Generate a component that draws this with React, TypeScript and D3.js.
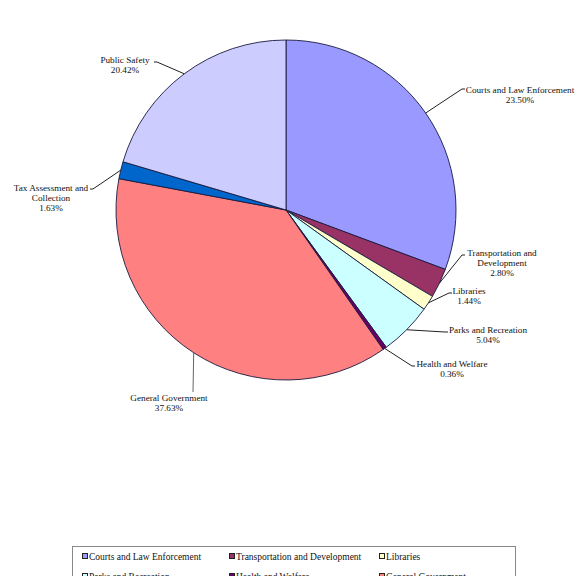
import React from "react";
import * as d3 from "d3";

const categories = [
  "Courts and Law Enforcement",
  "Transportation and Development",
  "Libraries",
  "Parks and Recreation",
  "Health and Welfare",
  "General Government",
  "Tax Assessment and Collection",
  "Public Safety",
];
// slice sizes as drawn in the picture (percent of the circle)
const sliceValues = [30.68, 2.8, 1.44, 5.04, 0.36, 37.63, 1.63, 20.42];
// percentage texts printed on the labels
const labelPercents = ["23.50%", "2.80%", "1.44%", "5.04%", "0.36%", "37.63%", "1.63%", "20.42%"];
const labelLines = [
  ["Courts and Law Enforcement"],
  ["Transportation and", "Development"],
  ["Libraries"],
  ["Parks and Recreation"],
  ["Health and Welfare"],
  ["General Government"],
  ["Tax Assessment and", "Collection"],
  ["Public Safety"],
];
const colors = ["#9999FF", "#993366", "#FFFFCC", "#CCFFFF", "#660066", "#FF8080", "#0066CC", "#CCCCFF"];

// label layout: text centre x, first baseline y, leader start (x,y)
const labelLayout = [
  { x: 520, y: 93, lx: 462, ly: 89 },
  { x: 502, y: 256, lx: 462, ly: 255 },
  { x: 469, y: 294, lx: 449, ly: 293 },
  { x: 488, y: 333, lx: 445, ly: 332 },
  { x: 452, y: 367, lx: 412, ly: 366 },
  { x: 169, y: 401, lx: 193, ly: 392 },
  { x: 51, y: 191, lx: 93, ly: 189 },
  { x: 125, y: 63, lx: 157, ly: 62 },
];

const W = 576;
const H = 576;
const cx = 286;
const cy = 210;
const R = 170;
const FONT = "'Liberation Serif', 'Times New Roman', serif";

export default function App() {
  const pie = d3.pie<number>().sort(null).startAngle(0).endAngle(2 * Math.PI);
  const arcs = pie(sliceValues);
  const arcGen = d3.arc<d3.PieArcDatum<number>>().innerRadius(0).outerRadius(R);

  const legendCols = [82, 229, 379];
  const legendRow0 = 560;
  const legendRowGap = 20;

  return (
    <svg
      width={W}
      height={H}
      style={{ position: "absolute", left: 0, top: 0, background: "#fff" }}
      fontFamily={FONT}
    >
      <rect x={0} y={0} width={W} height={H} fill="#fff" />
      <g transform={`translate(${cx},${cy})`}>
        {arcs.map((a, i) => (
          <path key={i} d={arcGen(a) || ""} fill={colors[i]} stroke="#1a1a40" strokeWidth={0.9} />
        ))}
      </g>
      {arcs.map((a, i) => {
        const mid = (a.startAngle + a.endAngle) / 2;
        const px = cx + R * Math.sin(mid);
        const py = cy - R * Math.cos(mid);
        const L = labelLayout[i];
        const right = L.lx > px;
        const hx = L.lx + (i === 5 ? 0 : right ? 3 : -3);
        const lines = [...labelLines[i], labelPercents[i]];
        return (
          <g key={i}>
            <polyline
              points={`${hx},${L.ly} ${L.lx},${L.ly} ${px},${py}`}
              fill="none"
              stroke={i === 5 ? "#666" : "#222"}
              strokeWidth={1}
            />
            {lines.map((t, j) => (
              <text key={j} x={L.x} y={L.y + j * 10} textAnchor="middle" fontSize={9.2} fill="#111">
                {t}
              </text>
            ))}
          </g>
        );
      })}
      <rect x={72.5} y={546.5} width={443} height={60} fill="#fff" stroke="#888" strokeWidth={1} />
      {categories.map((c, i) => {
        const col = i % 3;
        const row = Math.floor(i / 3);
        const x = legendCols[col];
        const y = legendRow0 + row * legendRowGap;
        return (
          <g key={c}>
            <rect x={x + 0.5} y={y - 6.5} width={5} height={5} fill={colors[i]} stroke="#222" strokeWidth={1} />
            <text x={x + 7} y={y} fontSize={9.5} fill="#111">
              {c}
            </text>
          </g>
        );
      })}
    </svg>
  );
}
